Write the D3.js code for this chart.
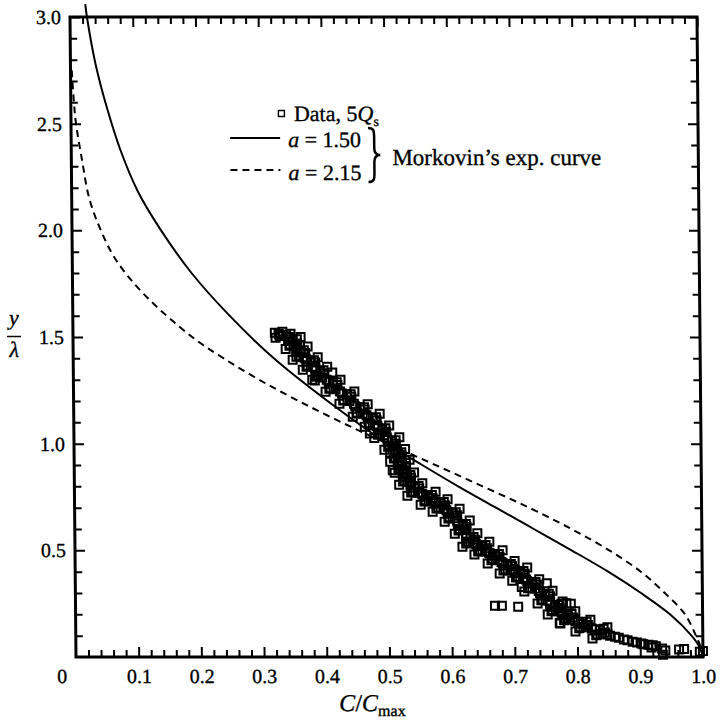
<!DOCTYPE html>
<html>
<head>
<meta charset="utf-8">
<script src="https://cdn.jsdelivr.net/npm/d3@7"></script>
<style>
  body { margin: 0; background: #fff; }
  svg { display: block; }
</style>
</head>
<body>
<svg id="chart" width="721" height="722"></svg>
<script>
// ---- data -------------------------------------------------------------
// Morkovin's exponential curve, a = 1.50 (C/Cmax, y/lambda)
const solidC = [0.0245, 0.027, 0.040, 0.057, 0.078, 0.106, 0.142, 0.19, 0.25, 0.32, 0.405, 0.50,
                0.555, 0.612, 0.672, 0.732, 0.792, 0.850, 0.902, 0.948, 0.982, 0.994, 1.0];
const solidY = [3.06, 3.0, 2.78, 2.58, 2.38, 2.18, 2.0, 1.8, 1.6, 1.4, 1.2, 1.0,
                0.9, 0.8, 0.7, 0.6, 0.5, 0.4, 0.3, 0.2, 0.1, 0.05, 0];

// Morkovin's exponential curve, a = 2.15
const dashedC = [0.002, 0.005, 0.008, 0.017, 0.028, 0.046, 0.070, 0.114, 0.19, 0.24, 0.296, 0.359,
                 0.427, 0.50, 0.576, 0.651, 0.725, 0.792, 0.852, 0.902, 0.940, 0.972, 0.989, 0.996, 1.0];
const dashedY = [2.75, 2.6, 2.5, 2.33, 2.15, 2.0, 1.86, 1.7, 1.5, 1.4, 1.3, 1.2,
                 1.1, 1.0, 0.9, 0.8, 0.7, 0.6, 0.5, 0.4, 0.3, 0.2, 0.1, 0.05, 0];

// Measured concentration profile, 5Qs: [C/Cmax, y/lambda]
const dataPoints = [
  [0.322,1.520],[0.328,1.515],[0.334,1.525],[0.340,1.510],[0.345,1.500],[0.330,1.505],
  [0.343,1.490],[0.350,1.480],[0.357,1.470],[0.346,1.465],[0.355,1.455],[0.362,1.460],
  [0.356,1.440],[0.363,1.430],[0.370,1.425],[0.360,1.410],[0.367,1.405],
  [0.372,1.395],[0.379,1.385],[0.386,1.380],[0.374,1.365],[0.382,1.360],
  [0.386,1.345],[0.394,1.340],[0.400,1.330],[0.390,1.320],[0.397,1.310],[0.413,1.334],[0.385,1.296],
  [0.407,1.290],[0.414,1.285],[0.421,1.275],[0.410,1.260],[0.418,1.255],
  [0.428,1.235],[0.436,1.230],[0.443,1.220],[0.431,1.205],[0.440,1.200],
  [0.449,1.175],[0.457,1.170],[0.464,1.160],[0.452,1.145],[0.461,1.140],
  [0.469,1.125],[0.477,1.120],[0.483,1.110],[0.472,1.095],[0.480,1.090],
  [0.485,1.075],[0.492,1.065],[0.498,1.055],[0.488,1.045],[0.495,1.040],[0.472,1.048],
  [0.500,1.020],[0.507,1.010],[0.513,1.000],[0.503,0.990],[0.510,0.985],[0.504,0.959],
  [0.511,0.965],[0.517,0.955],[0.522,0.945],[0.512,0.935],[0.519,0.930],
  [0.516,0.910],[0.523,0.900],[0.529,0.895],[0.519,0.880],[0.526,0.875],[0.508,0.875],
  [0.524,0.855],[0.531,0.845],[0.537,0.840],[0.527,0.825],[0.534,0.820],
  [0.536,0.805],[0.543,0.795],[0.550,0.790],[0.540,0.775],[0.548,0.770],
  [0.556,0.760],[0.564,0.755],[0.571,0.745],[0.560,0.735],[0.568,0.730],
  [0.576,0.725],[0.584,0.720],[0.591,0.710],[0.580,0.700],[0.588,0.695],
  [0.595,0.680],[0.603,0.675],[0.610,0.665],[0.598,0.655],[0.606,0.650],
  [0.611,0.625],[0.619,0.615],[0.625,0.610],[0.614,0.600],[0.622,0.595],
  [0.624,0.565],[0.631,0.555],[0.638,0.550],[0.627,0.540],[0.635,0.535],
  [0.642,0.525],[0.650,0.520],[0.657,0.510],[0.646,0.500],[0.654,0.495],
  [0.662,0.485],[0.670,0.475],[0.677,0.470],[0.666,0.460],[0.674,0.455],
  [0.682,0.440],[0.690,0.430],[0.697,0.425],[0.686,0.410],[0.694,0.405],
  [0.702,0.405],[0.710,0.395],[0.717,0.390],[0.706,0.375],[0.714,0.370],
  [0.721,0.355],[0.729,0.345],[0.736,0.340],[0.725,0.325],[0.733,0.320],[0.752,0.346],[0.712,0.328],
  [0.741,0.300],[0.749,0.290],[0.757,0.285],[0.745,0.270],[0.753,0.265],
  [0.775,0.250],[0.783,0.252],[0.790,0.250],
  [0.757,0.245],[0.765,0.235],[0.772,0.230],[0.761,0.220],[0.769,0.215],
  [0.777,0.200],[0.785,0.195],[0.793,0.185],[0.781,0.180],[0.789,0.175],[0.772,0.159],
  [0.801,0.165],[0.809,0.155],[0.817,0.150],[0.805,0.140],[0.813,0.140],
  [0.828,0.130],[0.836,0.125],[0.844,0.115],[0.832,0.105],[0.840,0.110],
  [0.852,0.100],[0.860,0.095],[0.866,0.090],
  [0.880,0.078],[0.888,0.072],[0.895,0.068],
  [0.905,0.060],[0.913,0.058],[0.920,0.055],[0.925,0.050],[0.918,0.045],
  [0.935,0.040],[0.940,0.030],[0.936,0.010],
  [0.962,0.035],[0.970,0.037],[0.995,0.025],[1.000,0.028],
  [0.669,0.240],[0.680,0.240],[0.706,0.235],
  // upper edge of the band
  [0.347,1.515],[0.363,1.500],[0.374,1.455],[0.390,1.405],[0.405,1.360],[0.426,1.300],
  [0.448,1.245],[0.469,1.185],[0.488,1.140],[0.503,1.085],[0.519,1.030],[0.528,0.975],
  [0.535,0.925],[0.542,0.865],[0.555,0.815],[0.576,0.775],[0.595,0.740],[0.614,0.695],
  [0.630,0.640],[0.642,0.580],[0.661,0.540],[0.682,0.500],[0.701,0.450],[0.721,0.420],
  [0.740,0.365],[0.761,0.310],[0.777,0.260],[0.797,0.215],[0.821,0.175],[0.848,0.140],
  // lower edge of the band
  [0.323,1.496],[0.339,1.444],[0.350,1.393],[0.366,1.346],[0.381,1.300],[0.402,1.243],
  [0.424,1.187],[0.445,1.126],[0.464,1.079],[0.479,1.027],[0.495,0.971],[0.504,0.915],
  [0.511,0.864],[0.518,0.808],[0.531,0.756],[0.552,0.714],[0.571,0.681],[0.590,0.634],
  [0.606,0.578],[0.618,0.517],[0.637,0.480],[0.658,0.438],[0.677,0.391],[0.697,0.358],
  [0.716,0.307],[0.737,0.251],[0.753,0.199],[0.773,0.157],[0.797,0.120],[0.824,0.087],
  // band interior
  [0.343,1.500],[0.357,1.449],[0.370,1.400],[0.386,1.352],[0.404,1.300],[0.425,1.245],
  [0.447,1.187],[0.467,1.133],[0.484,1.083],[0.499,1.029],[0.512,0.973],[0.520,0.920],
  [0.527,0.866],[0.537,0.812],[0.554,0.765],[0.574,0.728],[0.593,0.688],[0.610,0.636],
  [0.624,0.578],[0.640,0.529],[0.660,0.489],[0.680,0.445],[0.699,0.405],[0.719,0.363],
  [0.739,0.309],[0.757,0.255],[0.775,0.208],[0.797,0.169],[0.823,0.134],[0.848,0.106],
  [0.874,0.082],[0.902,0.063],
  [0.329,1.511],[0.357,1.489],[0.345,1.459],[0.368,1.438],[0.356,1.408],[0.384,1.391],
  [0.372,1.361],[0.399,1.344],[0.387,1.314],[0.420,1.288],[0.408,1.258],[0.442,1.232],
  [0.430,1.202],[0.463,1.171],[0.451,1.141],[0.482,1.124],[0.470,1.094],[0.497,1.072],
  [0.485,1.042],[0.513,1.016],[0.501,0.986],[0.522,0.960],[0.510,0.930],[0.529,0.909],
  [0.517,0.879],[0.536,0.853],[0.524,0.823],[0.549,0.801],[0.537,0.771],[0.570,0.759],
  [0.558,0.729],[0.589,0.726],[0.577,0.696],[0.608,0.679],[0.596,0.649],[0.624,0.623],
  [0.612,0.593],[0.636,0.562],[0.624,0.532],[0.655,0.525],[0.643,0.495],[0.676,0.483],
  [0.664,0.453],[0.695,0.436],[0.683,0.406],[0.715,0.403],[0.703,0.373],[0.734,0.352],
  [0.722,0.322],[0.755,0.296],[0.743,0.266],[0.771,0.244],[0.759,0.214],[0.791,0.202],
  [0.779,0.172],[0.815,0.165],[0.803,0.135],[0.842,0.132],[0.830,0.102]
];

// tick values and labels
const xMajorTicks = [0.1, 0.2, 0.3, 0.4, 0.5, 0.6, 0.7, 0.8, 0.9, 1.0];
const xTickLabels = ["0.1", "0.2", "0.3", "0.4", "0.5", "0.6", "0.7", "0.8", "0.9", "1.0"];
const yMajorTicks = [0.5, 1.0, 1.5, 2.0, 2.5, 3.0];
const yTickLabels = ["0.5", "1.0", "1.5", "2.0", "2.5", "3.0"];

// ---- layout -----------------------------------------------------------
const frame = { left: 73, right: 700, top: 17, bottom: 657 };
const serif = "'Liberation Serif', 'Times New Roman', Times, serif";

const x = d3.scaleLinear().domain([0, 1]).range([frame.left, frame.right]);
const y = d3.scaleLinear().domain([0, 3]).range([frame.bottom, frame.top]);

const svg = d3.select("#chart");
svg.append("rect").attr("width", 721).attr("height", 722).attr("fill", "#fff");

// the printed figure leans slightly to the right toward the bottom
const root = svg.append("g")
  .attr("transform", "translate(0,337) skewX(0.536) translate(0,-337)");

// minor tick positions (every 0.02 on C, every 0.1 on y), skipping majors
const xMinor = d3.range(1, 50).map(i => +(i * 0.02).toFixed(2))
  .filter(v => Math.abs(v * 10 - Math.round(v * 10)) > 1e-6);
const yMinor = d3.range(1, 30).map(i => +(i * 0.1).toFixed(1))
  .filter(v => Math.abs(v * 2 - Math.round(v * 2)) > 1e-6);

function inkText(sel) {
  // slightly heavier glyphs, like letterpress type
  sel.attr("fill", "#000").attr("stroke", "#000").attr("stroke-width", 0.35);
}

function styleAxis(g) {
  g.select(".domain").remove();
  g.selectAll(".tick line").attr("stroke", "#000").attr("stroke-width", 2);
  g.selectAll(".tick text")
    .attr("font-family", serif).attr("font-size", 20).call(inkText);
}

// bottom
root.append("g").attr("transform", `translate(0,${frame.bottom})`)
  .call(d3.axisBottom(x).tickValues(xMinor).tickSize(-7).tickFormat(""))
  .call(styleAxis);
root.append("g").attr("transform", `translate(0,${frame.bottom})`)
  .call(d3.axisBottom(x).tickValues(xMajorTicks).tickSize(-10).tickPadding(12)
    .tickFormat((d, i) => xTickLabels[i]))
  .call(styleAxis);
// top
root.append("g").attr("transform", `translate(0,${frame.top})`)
  .call(d3.axisTop(x).tickValues(xMinor).tickSize(-7).tickFormat(""))
  .call(styleAxis);
root.append("g").attr("transform", `translate(0,${frame.top})`)
  .call(d3.axisTop(x).tickValues(xMajorTicks).tickSize(-10).tickFormat(""))
  .call(styleAxis);
// left
root.append("g").attr("transform", `translate(${frame.left},0)`)
  .call(d3.axisLeft(y).tickValues(yMinor).tickSize(-7).tickFormat(""))
  .call(styleAxis);
root.append("g").attr("transform", `translate(${frame.left},0)`)
  .call(d3.axisLeft(y).tickValues(yMajorTicks).tickSize(-10).tickPadding(9)
    .tickFormat((d, i) => yTickLabels[i]))
  .call(styleAxis);
// right
root.append("g").attr("transform", `translate(${frame.right},0)`)
  .call(d3.axisRight(y).tickValues(yMinor).tickSize(-7).tickFormat(""))
  .call(styleAxis);
root.append("g").attr("transform", `translate(${frame.right},0)`)
  .call(d3.axisRight(y).tickValues(yMajorTicks).tickSize(-10).tickFormat(""))
  .call(styleAxis);

// shared origin label
root.append("text")
  .attr("x", x(0) - 14).attr("y", 683)
  .attr("text-anchor", "middle")
  .attr("font-family", serif).attr("font-size", 20)
  .call(inkText)
  .text("0");

// plot frame
root.append("rect")
  .attr("x", frame.left).attr("y", frame.top)
  .attr("width", frame.right - frame.left).attr("height", frame.bottom - frame.top)
  .attr("fill", "none").attr("stroke", "#000").attr("stroke-width", 3);

// ---- curves -----------------------------------------------------------
const line = d3.line()
  .x(d => x(d[0])).y(d => y(d[1]))
  .curve(d3.curveCatmullRom.alpha(0.5));

root.append("path")
  .datum(d3.zip(solidC, solidY))
  .attr("d", line)
  .attr("fill", "none").attr("stroke", "#000").attr("stroke-width", 2);

root.append("path")
  .datum(d3.zip(dashedC, dashedY))
  .attr("d", line)
  .attr("fill", "none").attr("stroke", "#000").attr("stroke-width", 2)
  .attr("stroke-dasharray", "7,5");

// ---- measured points --------------------------------------------------
const sq = 8;
root.append("g")
  .selectAll("rect")
  .data(dataPoints)
  .join("rect")
  .attr("x", d => x(d[0]) - sq / 2)
  .attr("y", d => y(d[1]) - sq / 2)
  .attr("width", sq).attr("height", sq)
  .attr("fill", "none").attr("stroke", "#000").attr("stroke-width", 2);

// ---- legend -----------------------------------------------------------
const legend = root.append("g")
  .attr("font-family", serif).attr("font-size", 22);

legend.append("rect")
  .attr("x", 280.5).attr("y", 110.5).attr("width", 6).attr("height", 6)
  .attr("fill", "none").attr("stroke", "#000").attr("stroke-width", 1.4);
const t0 = legend.append("text").attr("x", 296).attr("y", 121).call(inkText);
t0.append("tspan").text("Data, 5");
t0.append("tspan").attr("font-style", "italic").text("Q");
t0.append("tspan").attr("font-size", 14).attr("dy", 5).text("s");

legend.append("line")
  .attr("x1", 232).attr("x2", 282).attr("y1", 138).attr("y2", 138)
  .attr("stroke", "#000").attr("stroke-width", 2);
const t1 = legend.append("text").attr("x", 290).attr("y", 147).call(inkText);
t1.append("tspan").attr("font-style", "italic").text("a");
t1.append("tspan").text(" = 1.50");

legend.append("line")
  .attr("x1", 232).attr("x2", 282).attr("y1", 170).attr("y2", 170)
  .attr("stroke", "#000").attr("stroke-width", 2)
  .attr("stroke-dasharray", "7,5");
const t2 = legend.append("text").attr("x", 290).attr("y", 180).call(inkText);
t2.append("tspan").attr("font-style", "italic").text("a");
t2.append("tspan").text(" = 2.15");

// brace grouping the two curves
legend.append("path")
  .attr("d", "M370,128 C376,128 376,131 376,138 L376,148 C376,153 378,155 382,155 " +
             "C378,155 376,157 376,162 L376,172 C376,179 376,182 370,182")
  .attr("fill", "none").attr("stroke", "#000").attr("stroke-width", 2.5);

legend.append("text").attr("x", 394).attr("y", 165).attr("font-size", 23).call(inkText)
  .text("Morkovin\u2019s exp. curve");

// ---- axis titles ------------------------------------------------------
const xt = root.append("text")
  .attr("x", 369).attr("y", 711).attr("text-anchor", "middle")
  .attr("font-family", serif).attr("font-size", 24).call(inkText);
xt.append("tspan").attr("font-style", "italic").text("C");
xt.append("tspan").text("/");
xt.append("tspan").attr("font-style", "italic").text("C");
xt.append("tspan").attr("font-size", 16).attr("dy", 5).text("max");

const yt = root.append("g")
  .attr("font-family", serif).attr("font-size", 22).attr("font-style", "italic");
yt.append("text").attr("x", 14).attr("y", 325).attr("text-anchor", "middle").call(inkText).text("y");
yt.append("line").attr("x1", 7).attr("x2", 21).attr("y1", 336.5).attr("y2", 336.5)
  .attr("stroke", "#000").attr("stroke-width", 1.3);
yt.append("text").attr("x", 14).attr("y", 357).attr("text-anchor", "middle").call(inkText).text("\u03bb");
</script>
</body>
</html>
